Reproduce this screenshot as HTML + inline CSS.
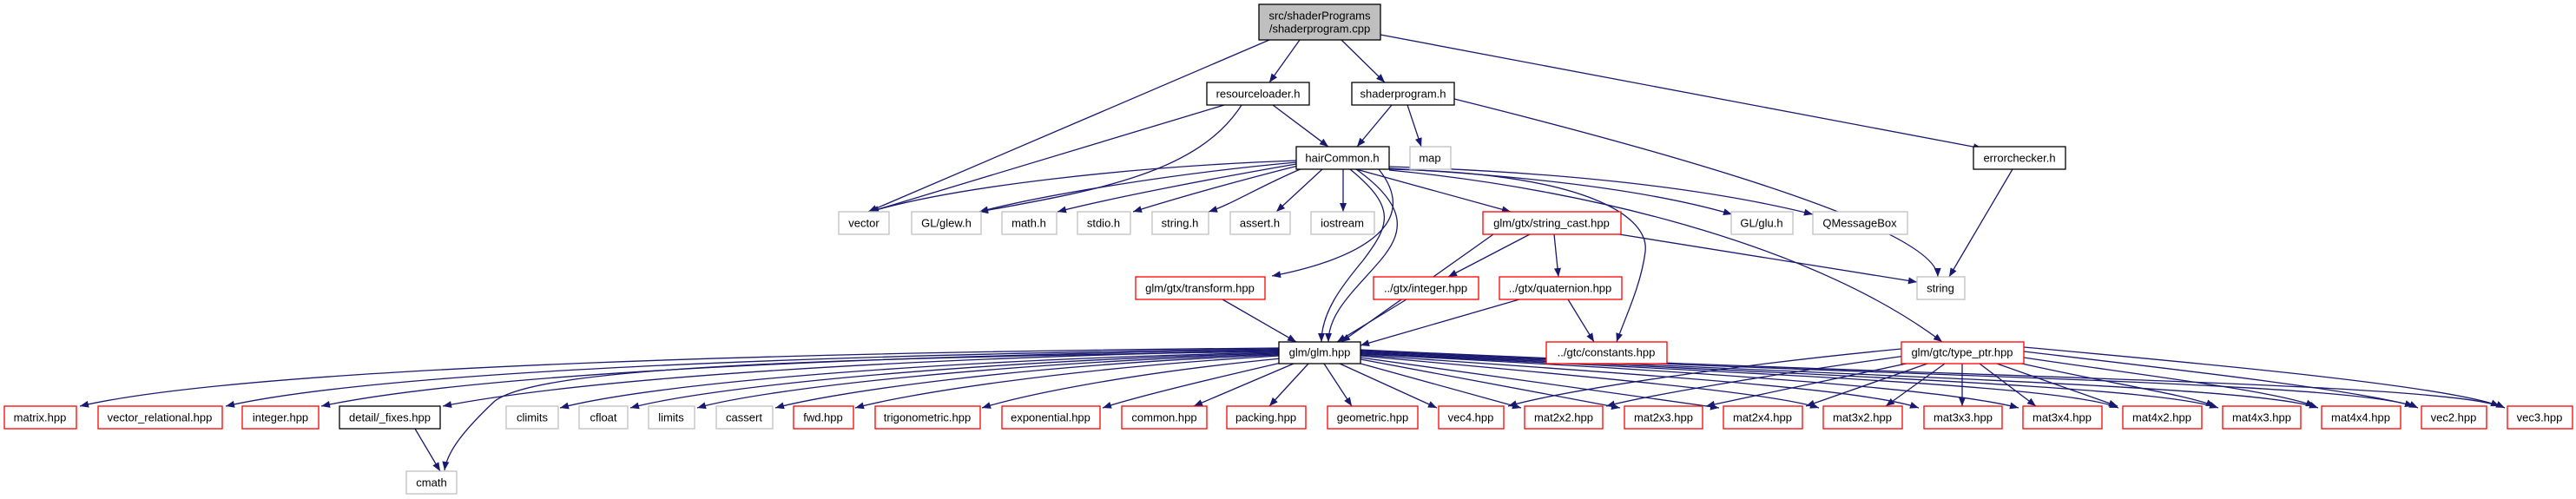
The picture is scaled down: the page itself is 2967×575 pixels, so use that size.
<!DOCTYPE html>
<html><head><meta charset="utf-8"><style>
html,body{margin:0;padding:0;background:#fff}
svg{display:block}
text{font-family:"Liberation Sans",sans-serif;font-size:13px;fill:#000;text-anchor:middle;dominant-baseline:central}
.e{fill:none;stroke:#191970;stroke-width:1.3}
.r{fill:#fff;stroke:#ff0000;stroke-width:1.3}
.g{fill:#fff;stroke:#bfbfbf;stroke-width:1.3}
.b{fill:#fff;stroke:#000;stroke-width:1.3}
</style></head><body>
<svg width="2967" height="575" viewBox="0 0 2967 575" xmlns="http://www.w3.org/2000/svg">
<defs><marker id="a" viewBox="0 0 10 8" refX="10" refY="4" markerWidth="11" markerHeight="8" markerUnits="userSpaceOnUse" orient="auto"><path d="M0,0L10,4L0,8z" fill="#191970"/></marker></defs>
<g class="e" marker-end="url(#a)">
<path d="M1462,46L1000,244"/>
<path d="M1497,46L1462,95"/>
<path d="M1545,46L1595,95"/>
<path d="M1590,40L2283,171"/>
<path d="M1410,121L1002,244"/>
<path d="M1430,121C1380,200 1260,220 1128,244"/>
<path d="M1466,121L1530,169"/>
<path d="M1603,121L1563,169"/>
<path d="M1621,121L1637,169"/>
<path d="M1675,114C1900,170 2230,260 2232,319"/>
<path d="M2318,195L2245,319"/>
<path d="M1493,185C1300,192 1100,215 1002,244"/>
<path d="M1493,187C1350,200 1200,225 1128,244"/>
<path d="M1493,189C1400,205 1280,228 1218,244"/>
<path d="M1495,191C1420,210 1350,230 1305,244"/>
<path d="M1500,194C1450,215 1420,235 1392,244"/>
<path d="M1523,195L1470,244"/>
<path d="M1547,195L1547,244"/>
<path d="M1562,195L1740,244"/>
<path d="M1600,194C1800,205 1920,225 1995,247"/>
<path d="M1600,192C1850,200 2000,225 2088,247"/>
<path d="M1588,195C1640,260 1560,300 1465,318"/>
<path d="M1555,195C1610,240 1600,260 1570,300C1545,330 1522,360 1522,394"/>
<path d="M1562,195C1625,240 1615,270 1590,300C1560,335 1530,360 1530,394"/>
<path d="M1600,195C1830,200 1900,250 1895,290C1890,330 1870,370 1862,394"/>
<path d="M1600,196C1850,220 2100,290 2237,394"/>
<path d="M1865,270L2208,325"/>
<path d="M1720,270L1545,394"/>
<path d="M1762,270L1668,319"/>
<path d="M1790,270L1795,319"/>
<path d="M1408,345L1493,394"/>
<path d="M1620,345L1540,394"/>
<path d="M1750,345L1567,398"/>
<path d="M1806,345L1836,394"/>
<path d="M478,494L507,543"/>
<path d="M1473,401C1000,405 300,420 92,468"/>
<path d="M1473,402C1000,408 450,425 260,468"/>
<path d="M1473,403C1000,410 550,430 370,468"/>
<path d="M1473,404C1050,412 680,435 510,468"/>
<path d="M1473,405C900,413 620,425 570,462C535,495 515,520 512,542"/>
<path d="M1473,406C1100,414 760,440 645,470"/>
<path d="M1473,407C1120,416 820,445 726,470"/>
<path d="M1473,408C1150,418 880,448 803,470"/>
<path d="M1473,409C1180,420 960,452 893,470"/>
<path d="M1473,410C1220,425 1040,455 985,470"/>
<path d="M1476,413C1300,430 1180,455 1131,470"/>
<path d="M1480,417C1380,440 1300,460 1270,470"/>
<path d="M1490,419L1375,468"/>
<path d="M1507,419L1462,468"/>
<path d="M1525,419L1557,468"/>
<path d="M1543,419L1655,470"/>
<path d="M1560,417L1752,470"/>
<path d="M1567,414L1866,470"/>
<path d="M1567,412L1980,470"/>
<path d="M1567,410C1900,440 2050,455 2095,470"/>
<path d="M1567,409C1950,435 2150,450 2210,470"/>
<path d="M1567,408C2000,430 2250,450 2325,470"/>
<path d="M1567,407C2050,432 2380,445 2440,470"/>
<path d="M1567,406C2100,433 2480,445 2555,470"/>
<path d="M1567,405C2150,434 2600,445 2670,470"/>
<path d="M1567,404C2200,435 2720,440 2785,470"/>
<path d="M1567,403C2250,436 2820,440 2885,470"/>
<path d="M2190,402C2000,420 1800,450 1737,468"/>
<path d="M2195,410C2050,430 1900,455 1850,468"/>
<path d="M2205,417C2100,440 2000,460 1965,468"/>
<path d="M2220,419L2080,468"/>
<path d="M2240,419L2172,468"/>
<path d="M2260,419L2260,468"/>
<path d="M2280,419L2345,468"/>
<path d="M2300,419L2439,468"/>
<path d="M2320,417C2420,440 2520,455 2551,468"/>
<path d="M2331,412C2450,430 2620,450 2666,468"/>
<path d="M2331,405C2500,425 2720,450 2780,468"/>
<path d="M2331,400C2550,420 2820,445 2879,468"/>
</g>
<rect x="1450" y="5" width="140" height="41" fill="#bfbfbf" stroke="#000" stroke-width="1.3"/>
<text x="1520" y="18">src/shaderPrograms</text><text x="1520" y="33">/shaderprogram.cpp</text>
<rect class="b" x="1390" y="95" width="118" height="26"/><text x="1449" y="108">resourceloader.h</text>
<rect class="b" x="1557" y="95" width="118" height="26"/><text x="1616" y="108">shaderprogram.h</text>
<rect class="b" x="1493" y="169" width="107" height="26"/><text x="1546" y="182">hairCommon.h</text>
<rect class="g" x="1624" y="169" width="47" height="26"/><text x="1647" y="182">map</text>
<rect class="b" x="2273" y="169" width="106" height="26"/><text x="2326" y="182">errorchecker.h</text>
<rect class="g" x="966" y="244" width="58" height="26"/><text x="995" y="257">vector</text>
<rect class="g" x="1050" y="244" width="80" height="26"/><text x="1090" y="257">GL/glew.h</text>
<rect class="g" x="1154" y="244" width="63" height="26"/><text x="1185" y="257">math.h</text>
<rect class="g" x="1241" y="244" width="61" height="26"/><text x="1271" y="257">stdio.h</text>
<rect class="g" x="1327" y="244" width="65" height="26"/><text x="1359" y="257">string.h</text>
<rect class="g" x="1417" y="244" width="69" height="26"/><text x="1451" y="257">assert.h</text>
<rect class="g" x="1510" y="244" width="73" height="26"/><text x="1546" y="257">iostream</text>
<rect class="r" x="1708" y="244" width="159" height="26"/><text x="1787" y="257">glm/gtx/string_cast.hpp</text>
<rect class="g" x="1994" y="244" width="71" height="26"/><text x="2029" y="257">GL/glu.h</text>
<rect class="g" x="2088" y="244" width="109" height="26"/><text x="2142" y="257">QMessageBox</text>
<rect class="r" x="1308" y="319" width="149" height="26"/><text x="1382" y="332">glm/gtx/transform.hpp</text>
<rect class="r" x="1582" y="319" width="121" height="26"/><text x="1642" y="332">../gtx/integer.hpp</text>
<rect class="r" x="1727" y="319" width="141" height="26"/><text x="1797" y="332">../gtx/quaternion.hpp</text>
<rect class="g" x="2208" y="319" width="55" height="26"/><text x="2235" y="332">string</text>
<rect class="b" x="1473" y="394" width="94" height="25"/><text x="1520" y="406">glm/glm.hpp</text>
<rect class="r" x="1781" y="394" width="139" height="25"/><text x="1850" y="406">../gtc/constants.hpp</text>
<rect class="r" x="2190" y="394" width="141" height="25"/><text x="2260" y="406">glm/gtc/type_ptr.hpp</text>
<rect class="r" x="5" y="468" width="83" height="26"/><text x="46" y="481">matrix.hpp</text>
<rect class="r" x="113" y="468" width="143" height="26"/><text x="184" y="481">vector_relational.hpp</text>
<rect class="r" x="279" y="468" width="88" height="26"/><text x="323" y="481">integer.hpp</text>
<rect class="b" x="391" y="468" width="116" height="26"/><text x="449" y="481">detail/_fixes.hpp</text>
<rect class="g" x="583" y="468" width="60" height="26"/><text x="613" y="481">climits</text>
<rect class="g" x="667" y="468" width="56" height="26"/><text x="695" y="481">cfloat</text>
<rect class="g" x="747" y="468" width="53" height="26"/><text x="773" y="481">limits</text>
<rect class="g" x="825" y="468" width="65" height="26"/><text x="857" y="481">cassert</text>
<rect class="r" x="914" y="468" width="69" height="26"/><text x="948" y="481">fwd.hpp</text>
<rect class="r" x="1008" y="468" width="121" height="26"/><text x="1068" y="481">trigonometric.hpp</text>
<rect class="r" x="1154" y="468" width="113" height="26"/><text x="1210" y="481">exponential.hpp</text>
<rect class="r" x="1292" y="468" width="98" height="26"/><text x="1341" y="481">common.hpp</text>
<rect class="r" x="1413" y="468" width="91" height="26"/><text x="1458" y="481">packing.hpp</text>
<rect class="r" x="1529" y="468" width="104" height="26"/><text x="1581" y="481">geometric.hpp</text>
<rect class="r" x="1657" y="468" width="75" height="26"/><text x="1694" y="481">vec4.hpp</text>
<rect class="r" x="1756" y="468" width="90" height="26"/><text x="1801" y="481">mat2x2.hpp</text>
<rect class="r" x="1871" y="468" width="90" height="26"/><text x="1916" y="481">mat2x3.hpp</text>
<rect class="r" x="1985" y="468" width="91" height="26"/><text x="2030" y="481">mat2x4.hpp</text>
<rect class="r" x="2100" y="468" width="91" height="26"/><text x="2145" y="481">mat3x2.hpp</text>
<rect class="r" x="2216" y="468" width="90" height="26"/><text x="2261" y="481">mat3x3.hpp</text>
<rect class="r" x="2330" y="468" width="91" height="26"/><text x="2375" y="481">mat3x4.hpp</text>
<rect class="r" x="2445" y="468" width="91" height="26"/><text x="2490" y="481">mat4x2.hpp</text>
<rect class="r" x="2560" y="468" width="90" height="26"/><text x="2605" y="481">mat4x3.hpp</text>
<rect class="r" x="2674" y="468" width="91" height="26"/><text x="2719" y="481">mat4x4.hpp</text>
<rect class="r" x="2789" y="468" width="75" height="26"/><text x="2826" y="481">vec2.hpp</text>
<rect class="r" x="2888" y="468" width="75" height="26"/><text x="2925" y="481">vec3.hpp</text>
<rect class="g" x="468" y="543" width="58" height="26"/><text x="497" y="556">cmath</text>
</svg>
</body></html>
